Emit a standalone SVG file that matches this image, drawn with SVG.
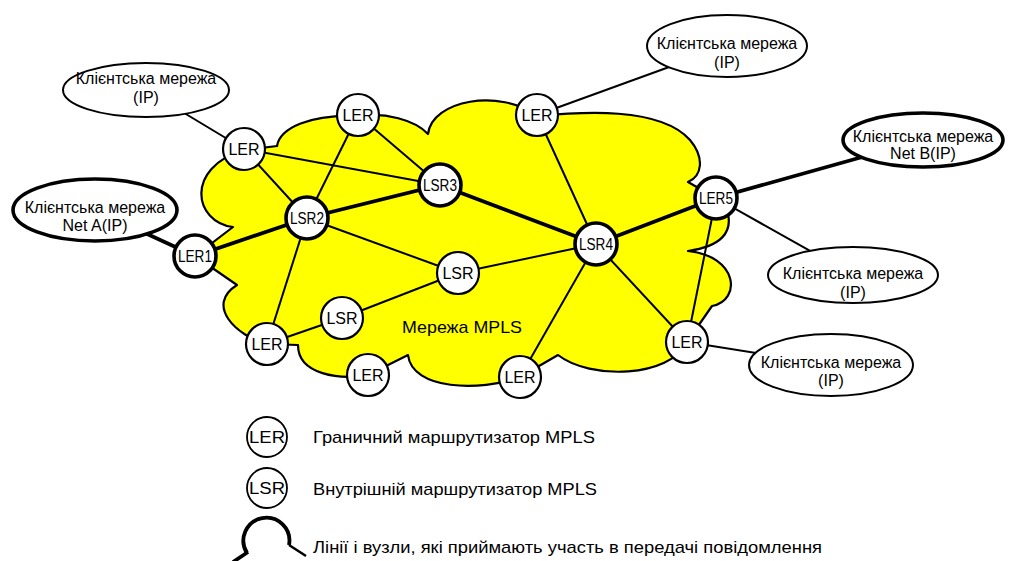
<svg xmlns="http://www.w3.org/2000/svg" width="1011" height="561" viewBox="0 0 1011 561">
  <style>
    text { font-family: "Liberation Sans", Arial, sans-serif; fill: #000; text-anchor: middle; }
    .node { fill: #fff; stroke: #000; stroke-width: 2.2; }
    .node.hot { stroke-width: 3.6; }
    .net { fill: #fff; stroke: #000; stroke-width: 2; }
    .net.hot { stroke-width: 3.6; }
    .lbl { font-size: 16px; }
    .nlbl { font-size: 16px; }
    .thin { stroke: #000; stroke-width: 2; fill: none; }
    .bold { stroke: #000; stroke-width: 3.8; fill: none; }
    .leg { font-size: 17px; text-anchor: start; }
  </style>

  <rect width="1011" height="561" fill="#fff"/>

  <!-- MPLS cloud -->
  <path id="cloud" fill="#ffff00" stroke="#000" stroke-width="2.2" stroke-linejoin="round"
        d="M244,150 L277,146 C280,128 310,114 358,116 C385,112 415,120 428,134 C432,100 500,88 537,116
           C580,112 660,106 690,140 C705,158 702,176 688,182 L716,198 L728,214
           C732,232 722,246 688,251 C738,256 742,300 712,306 L687,342
           C670,378 590,380 558,355 L520,377 C480,392 412,390 408,355 L368,375
           C340,380 298,375 298,345 L267,344 C236,336 205,305 237,285 L195,256 L233,227
           C194,222 184,168 244,150 Z"/>
  <text x="462" y="333" style="font-size:17px" textLength="120" lengthAdjust="spacingAndGlyphs">Мережа MPLS</text>

  <!-- links -->
  <g id="connectors">
    <line class="thin" x1="146" y1="90" x2="244" y2="149"/>
    <line class="thin" x1="244" y1="149" x2="440" y2="185"/>
    <line class="thin" x1="244" y1="149" x2="307" y2="218"/>
    <line class="thin" x1="358" y1="115" x2="307" y2="218"/>
    <line class="thin" x1="358" y1="115" x2="440" y2="185"/>
    <line class="thin" x1="307" y1="218" x2="458" y2="273"/>
    <line class="thin" x1="307" y1="218" x2="267" y2="344"/>
    <line class="thin" x1="267" y1="344" x2="342" y2="318"/>
    <line class="thin" x1="342" y1="318" x2="458" y2="273"/>
    <line class="thin" x1="458" y1="273" x2="596" y2="244"/>
    <line class="thin" x1="537" y1="115" x2="596" y2="244"/>
    <line class="thin" x1="537" y1="115" x2="727" y2="46"/>
    <line class="thin" x1="596" y1="244" x2="520" y2="377"/>
    <line class="thin" x1="596" y1="244" x2="687" y2="342"/>
    <line class="thin" x1="716" y1="198" x2="687" y2="342"/>
    <line class="thin" x1="716" y1="198" x2="853" y2="275"/>
    <line class="thin" x1="687" y1="342" x2="831" y2="365"/>
    <!-- message path -->
    <polyline class="bold" points="95,210 195,256 307,218 440,185 596,244 716,198 923,140"/>
  </g>

  <!-- client networks -->
  <g id="net-tl">
    <ellipse class="net" cx="146" cy="90" rx="83" ry="27"/>
    <text class="lbl" x="146" y="84">Клієнтська мережа</text>
    <text class="lbl" x="146" y="103">(IP)</text>
  </g>
  <g id="net-a">
    <ellipse class="net hot" cx="95" cy="210" rx="82" ry="31"/>
    <text class="lbl" x="95" y="213">Клієнтська мережа</text>
    <text class="lbl" x="95" y="231">Net A(IP)</text>
  </g>
  <g id="net-tr">
    <ellipse class="net" cx="727" cy="46" rx="80" ry="31"/>
    <text class="lbl" x="727" y="49">Клієнтська мережа</text>
    <text class="lbl" x="727" y="68">(IP)</text>
  </g>
  <g id="net-b">
    <ellipse class="net hot" cx="923" cy="140" rx="80" ry="27"/>
    <text class="lbl" x="923" y="142">Клієнтська мережа</text>
    <text class="lbl" x="923" y="159">Net B(IP)</text>
  </g>
  <g id="net-rm">
    <ellipse class="net" cx="853" cy="275" rx="85" ry="28"/>
    <text class="lbl" x="853" y="279">Клієнтська мережа</text>
    <text class="lbl" x="853" y="298">(IP)</text>
  </g>
  <g id="net-br">
    <ellipse class="net" cx="831" cy="365" rx="82" ry="31"/>
    <text class="lbl" x="831" y="368">Клієнтська мережа</text>
    <text class="lbl" x="831" y="386">(IP)</text>
  </g>

  <!-- routers -->
  <g id="ler-tl"><circle class="node" cx="244" cy="149" r="21"/><text class="nlbl" x="244" y="155">LER</text></g>
  <g id="ler-top"><circle class="node" cx="358" cy="115" r="21"/><text class="nlbl" x="358" y="121">LER</text></g>
  <g id="ler-tr"><circle class="node" cx="537" cy="115" r="21"/><text class="nlbl" x="537" y="121">LER</text></g>
  <g id="ler1"><circle class="node hot" cx="195" cy="256" r="21"/><text class="nlbl" x="195" y="262" textLength="34" lengthAdjust="spacingAndGlyphs">LER1</text></g>
  <g id="lsr2"><circle class="node hot" cx="307" cy="218" r="21"/><text class="nlbl" x="307" y="224" textLength="34" lengthAdjust="spacingAndGlyphs">LSR2</text></g>
  <g id="lsr3"><circle class="node hot" cx="440" cy="185" r="21"/><text class="nlbl" x="440" y="191" textLength="34" lengthAdjust="spacingAndGlyphs">LSR3</text></g>
  <g id="lsr4"><circle class="node hot" cx="596" cy="244" r="21"/><text class="nlbl" x="596" y="250" textLength="34" lengthAdjust="spacingAndGlyphs">LSR4</text></g>
  <g id="ler5"><circle class="node hot" cx="716" cy="198" r="21"/><text class="nlbl" x="716" y="204" textLength="34" lengthAdjust="spacingAndGlyphs">LER5</text></g>
  <g id="lsr-mid"><circle class="node" cx="458" cy="273" r="21"/><text class="nlbl" x="458" y="279">LSR</text></g>
  <g id="lsr-low"><circle class="node" cx="342" cy="318" r="21"/><text class="nlbl" x="342" y="324">LSR</text></g>
  <g id="ler-ll"><circle class="node" cx="267" cy="344" r="21"/><text class="nlbl" x="267" y="350">LER</text></g>
  <g id="ler-bot"><circle class="node" cx="368" cy="375" r="21"/><text class="nlbl" x="368" y="381">LER</text></g>
  <g id="ler-bc"><circle class="node" cx="520" cy="377" r="21"/><text class="nlbl" x="520" y="383">LER</text></g>
  <g id="ler-rl"><circle class="node" cx="687" cy="342" r="21"/><text class="nlbl" x="687" y="348">LER</text></g>

  <!-- legend -->
  <g id="legend">
    <circle cx="267" cy="437" r="20" fill="#fff" stroke="#000" stroke-width="1.8"/>
    <text class="nlbl" x="267" y="443" textLength="36" lengthAdjust="spacingAndGlyphs">LER</text>
    <text class="leg" x="313" y="443" textLength="282" lengthAdjust="spacingAndGlyphs">Граничний маршрутизатор MPLS</text>

    <circle cx="267" cy="488" r="20" fill="#fff" stroke="#000" stroke-width="1.8"/>
    <text class="nlbl" x="267" y="494" textLength="36" lengthAdjust="spacingAndGlyphs">LSR</text>
    <text class="leg" x="313" y="495" textLength="284" lengthAdjust="spacingAndGlyphs">Внутрішній маршрутизатор MPLS</text>

    <path d="M247,553 A23,23 0 1 1 289,545" fill="none" stroke="#000" stroke-width="3.8"/>
    <line x1="248" y1="552" x2="233" y2="562" stroke="#000" stroke-width="3.8"/>
    <line x1="289" y1="545" x2="306" y2="556" stroke="#000" stroke-width="2.5"/>
    <text class="leg" x="313" y="553" textLength="509" lengthAdjust="spacingAndGlyphs">Лінії і вузли, які приймають участь в передачі повідомлення</text>
  </g>
</svg>
